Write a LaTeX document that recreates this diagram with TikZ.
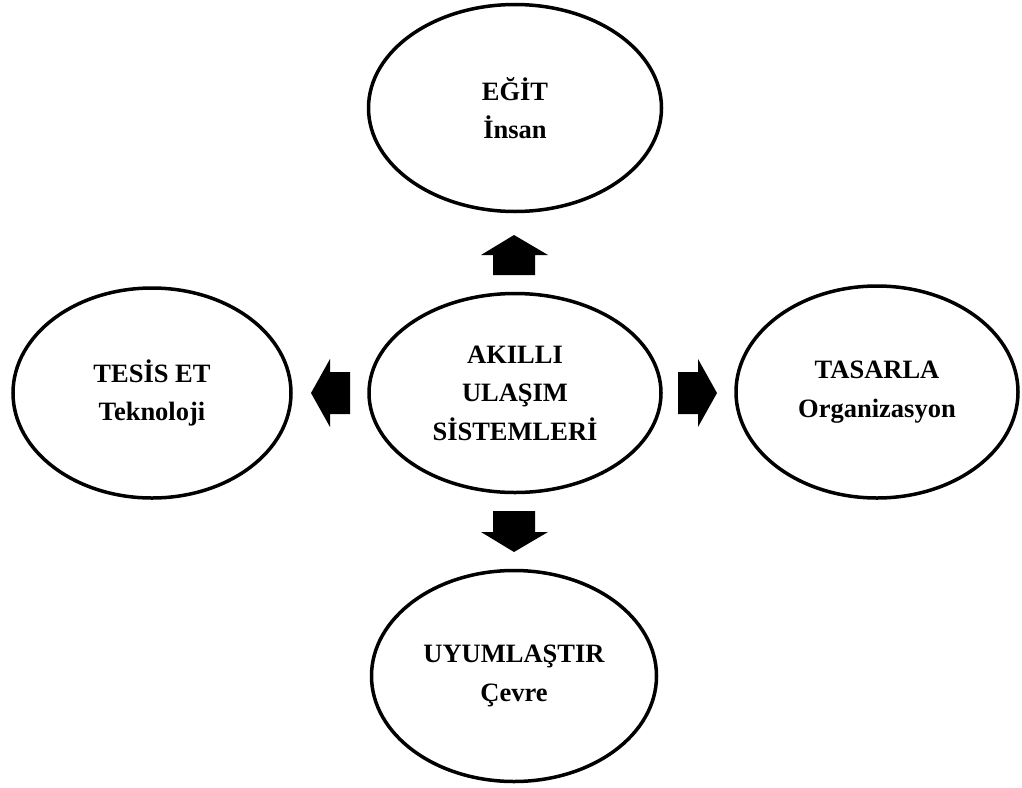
\documentclass[tikz,border=0pt]{standalone}
\usepackage{fontspec}
\setmainfont{Liberation Serif}
\usetikzlibrary{shapes.geometric}
\begin{document}
\begin{tikzpicture}[x=1pt,y=-1pt,
  oval/.style={ellipse, draw=black, line width=3.5pt, inner sep=0pt, align=center,
    font=\fontsize{26.5}{38.5}\selectfont\bfseries},
  blockarrow/.style={fill=black}]
\useasboundingbox (0,0) rectangle (1022,787);

% the five ovals
\node[oval, minimum width=292pt, minimum height=199pt] (hub) at (515,393) {AKILLI\\ULAŞIM\\SİSTEMLERİ};
\node[oval, minimum width=293pt, minimum height=207pt] (top) at (515,108) {EĞİT\\İnsan};
\node[oval, minimum width=278pt, minimum height=210pt] (left) at (152,393) {TESİS ET\\Teknoloji};
\node[oval, minimum width=282pt, minimum height=212pt] (right) at (877,392) {TASARLA\\Organizasyon};
\node[oval, minimum width=285pt, minimum height=211pt] (bottom) at (514,676) {UYUMLAŞTIR\\Çevre};

% block arrows pointing away from the hub
\fill[blockarrow] (514,235) -- (548,255) -- (535,255) -- (535,275) -- (493,275) -- (493,255) -- (481,255) -- cycle;
\fill[blockarrow] (514,552) -- (548,532) -- (535,532) -- (535,511) -- (493,511) -- (493,532) -- (481,532) -- cycle;
\fill[blockarrow] (311,393) -- (330,359) -- (330,372) -- (350,372) -- (350,414) -- (330,414) -- (330,427) -- cycle;
\fill[blockarrow] (717,393) -- (698,359) -- (698,372) -- (678,372) -- (678,414) -- (698,414) -- (698,427) -- cycle;
\end{tikzpicture}
\end{document}
